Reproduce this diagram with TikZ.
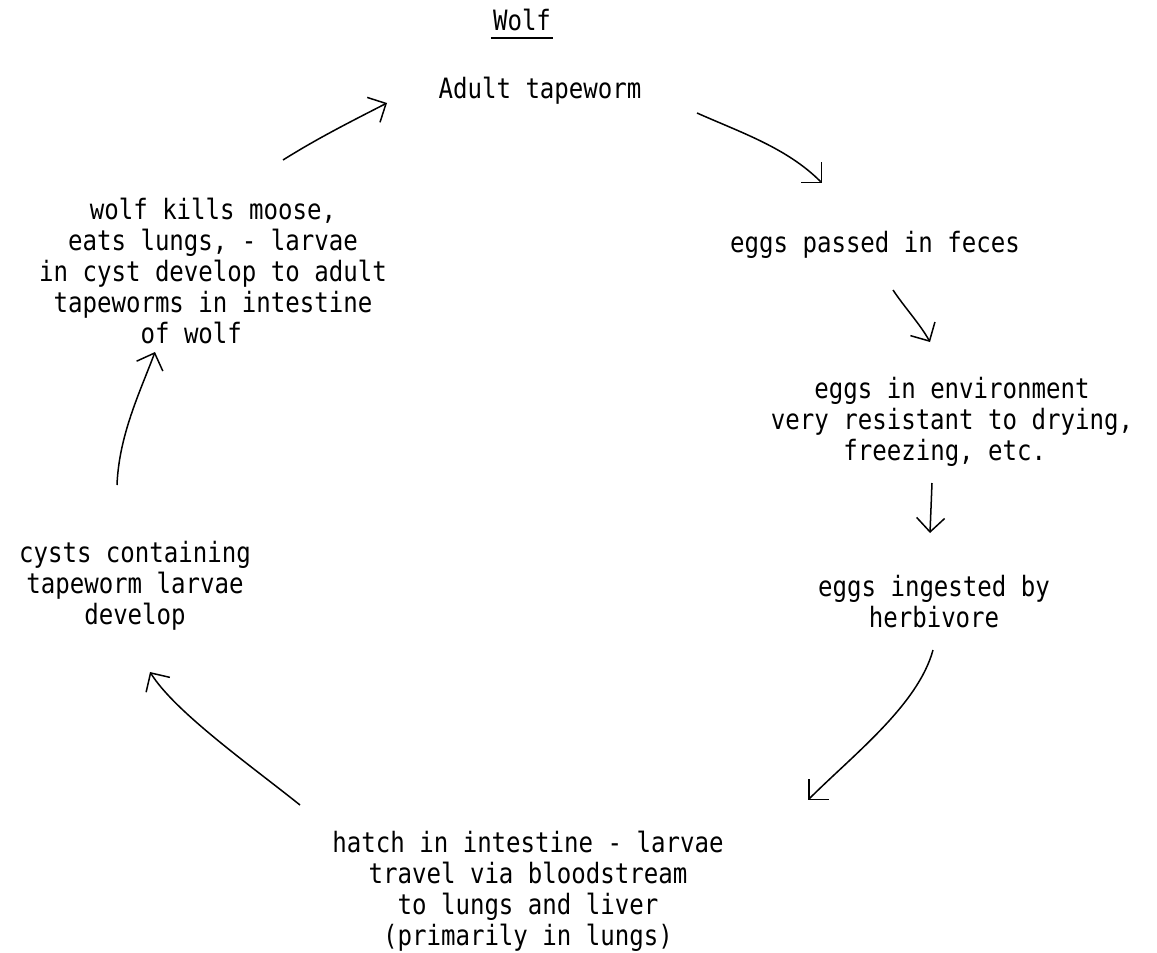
\documentclass[tikz,border=0pt]{standalone}
\usepackage{fontspec}
\usepackage{tikz}
\usetikzlibrary{arrows.meta}
\newfontfamily\tw[FakeStretch=0.86]{DejaVu Sans Mono}

\begin{document}
\begin{tikzpicture}[x=1pt,y=-1pt,
  stage/.style={font={\tw\fontsize{28}{31}\selectfont},align=center,anchor=base,inner sep=0pt},
  cyc/.style={-{Straight Barb[length=14pt,width=28pt]},line width=1.5pt}]
  \useasboundingbox (0,0) rectangle (1157,953);
  % texts (base = last line)
  \node[stage] (title) at (522,30) {Wolf};
  \draw[line width=1.5pt] ([shift={(-2,8)}]title.base west) -- ([shift={(2,8)}]title.base east);
  \node[stage] (adult) at (540,98) {Adult tapeworm};
  \node[stage] (passed) at (875,252) {eggs passed in feces};
  \node[stage] (envir) at (952,460) {eggs in environment\\very resistant to drying,\\freezing, etc.\phantom{x}};
  \node[stage] (ingest) at (934,627) {eggs ingested by\\herbivore};
  \node[stage] (hatch) at (528,945) {hatch in intestine - larvae\\travel via bloodstream\\to lungs and liver\\(primarily in lungs)};
  \node[stage] (cysts) at (135,624) {cysts containing\\tapeworm larvae\\develop};
  \node[stage] (kills) at (213,343) {wolf kills moose,\\eats lungs, - larvae\\in cyst develop to adult\\tapeworms in intestine\\of wolf\phantom{xxx}};
  % cycle arrows
  \draw[cyc] ([shift={(70,-183)}]kills.base) .. controls +(35,-22) and +(-35,18) .. ([shift={(-153,5)}]adult.base);
  \draw[cyc] ([shift={(157,15)}]adult.base) .. controls +(45,20) and +(-35,-35) .. ([shift={(-53,-69)}]passed.base);
  \draw[cyc] ([shift={(18,38)}]passed.base) .. controls +(12,18) and +(-10,-18) .. ([shift={(-22,-118)}]envir.base);
  \draw[cyc] ([shift={(-20,23)}]envir.base) -- ([shift={(-4,-94)}]ingest.base);
  \draw[cyc] ([shift={(-1,23)}]ingest.base) .. controls +(-15,55) and +(45,-45) .. ([shift={(280,-145)}]hatch.base);
  \draw[cyc] ([shift={(-228,-140)}]hatch.base) .. controls +(-50,-40) and +(25,40) .. ([shift={(15,48)}]cysts.base);
  \draw[cyc] ([shift={(-18,-139)}]cysts.base) .. controls +(2,-50) and +(-15,40) .. ([shift={(-58,9)}]kills.base);
\end{tikzpicture}
\end{document}
